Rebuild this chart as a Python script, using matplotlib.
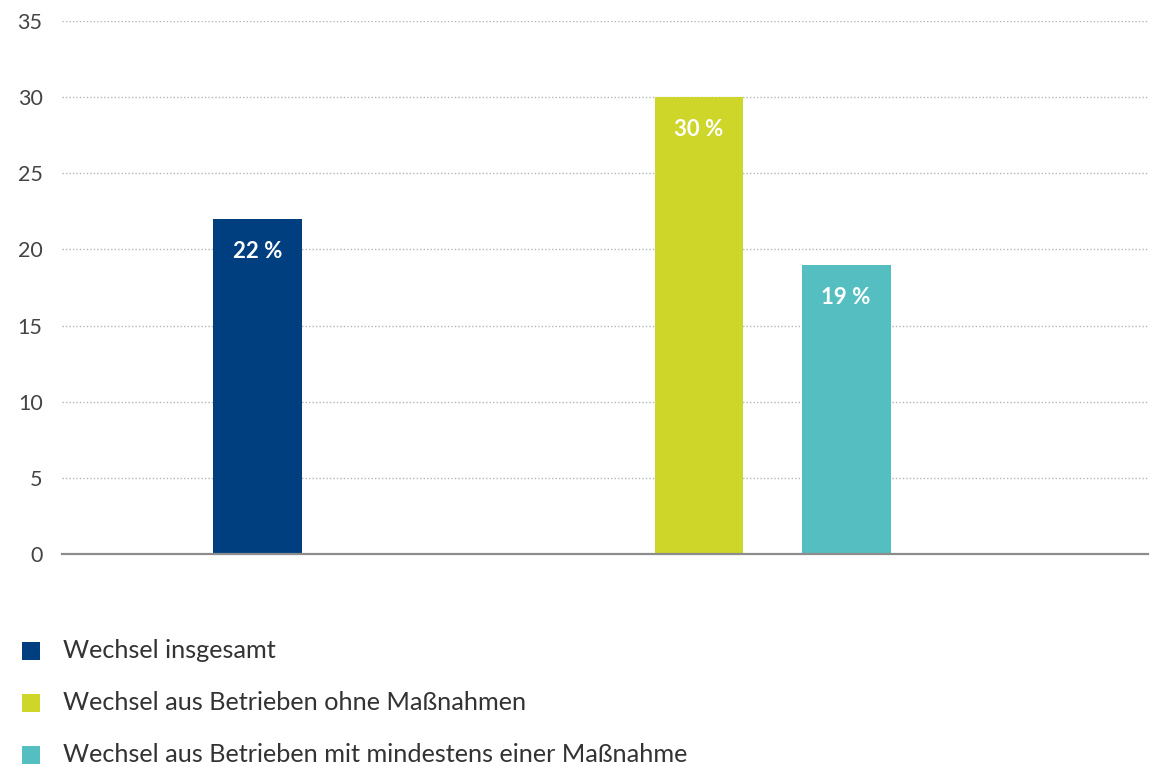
import matplotlib
matplotlib.use("Agg")
import matplotlib.pyplot as plt
from matplotlib.patches import Rectangle

categories = ["Wechsel insgesamt",
              "Wechsel aus Betrieben ohne Maßnahmen",
              "Wechsel aus Betrieben mit mindestens einer Maßnahme"]
values = [22, 30, 19]
value_labels = ["22 %", "30 %", "19 %"]
yticks = [0, 5, 10, 15, 20, 25, 30, 35]
colors = ["#003f7f", "#cdd629", "#55bec1"]
positions = [0, 3, 4]

plt.rcParams['font.family'] = ['Lato', 'DejaVu Sans']

W, H = 1151, 766
fig = plt.figure(figsize=(W/100, H/100), dpi=100)
ax = fig.add_axes([62/W, 1-554/H, (1148-62)/W, (554-21)/H])

bars = ax.bar(positions, values, width=0.605, color=colors, zorder=3)
for b, lab in zip(bars, value_labels):
    ax.annotate(lab, (b.get_x()+b.get_width()/2, b.get_height()),
                xytext=(0, -23.5), textcoords="offset points",
                ha="center", va="center", color="white",
                fontsize=16, fontweight="bold", zorder=4)

ax.set_xlim(-1.333, 6.054)
ax.set_ylim(0, 35)
ax.set_yticks(yticks)
ax.set_xticks([])
ax.tick_params(axis="y", length=0, pad=14, labelsize=15.5, labelcolor="#444444")
for s in ["top", "right", "left"]:
    ax.spines[s].set_visible(False)
ax.spines["bottom"].set_color("#8c8c8c")
ax.spines["bottom"].set_linewidth(1.6)
ax.spines["bottom"].set_zorder(5)
ax.yaxis.grid(True, linestyle=(0, (1, 1.5)), color="#b5b5b5", linewidth=1, zorder=0)

# manual legend (figure pixel layout)
rows_y = [651, 703, 755]
for cat, col, yy in zip(categories, colors, rows_y):
    fig.patches.append(Rectangle((22/W, 1-(yy+9)/H), 18/W, 18/H,
                                 transform=fig.transFigure, facecolor=col,
                                 edgecolor="none"))
    fig.text(63/W, 1-yy/H, cat, ha="left", va="center",
             fontsize=18.2, color="#333333")

fig.savefig("out.png", dpi=100)
